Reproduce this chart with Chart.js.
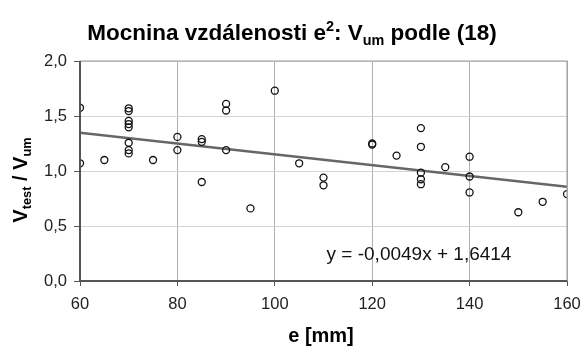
<!DOCTYPE html>
<html>
<head>
<meta charset="utf-8">
<script src="https://cdn.jsdelivr.net/npm/chart.js@4"></script>
<style>
  html, body { margin: 0; padding: 0; background: #fff; }
  #wrap { width: 585px; height: 346px; }
</style>
</head>
<body>
<div id="wrap"><canvas id="myChart"></canvas></div>
<script>
// measured points, e [mm] vs Vtest/Vum
let eValues = [60,60,65,70,70,70,70,70,70,70,70,75,80,80,85,85,85,90,90,90,95,100,105,110,110,120,120,125,130,130,130,130,130,135,140,140,140,150,155,160];
let ratioValues = [1.575,1.07,1.10,1.57,1.545,1.455,1.427,1.397,1.257,1.19,1.16,1.10,1.31,1.19,1.29,1.265,0.90,1.61,1.55,1.19,0.66,1.73,1.07,0.94,0.87,1.25,1.24,1.14,1.39,1.22,0.985,0.925,0.88,1.035,1.13,0.95,0.805,0.625,0.72,0.79];
// linear trend y = -0.0049x + 1.6414
let trendX = [60,160];
let trendY = trendX.map(x => -0.0049*x + 1.6414);
let xTicks = [60,80,100,120,140,160];
let yTicks = [0,0.5,1.0,1.5,2.0];

let points = eValues.map((e,i) => ({x: e, y: ratioValues[i]}));
let trend = trendX.map((x,i) => ({x: x, y: trendY[i]}));

// draws a string made of parts with sub/superscripts, centered at (0,0)
function drawRich(ctx, parts, size){
    let widths = parts.map(p => {
        ctx.font = 'bold ' + (p.s ? size*0.64 : size) + 'px Arial, "Liberation Sans"';
        return ctx.measureText(p.t).width;
    });
    let total = widths.reduce((a,b) => a+b, 0);
    let x = -total/2;
    ctx.textBaseline = 'alphabetic';
    ctx.textAlign = 'left';
    parts.forEach((p,i) => {
        ctx.font = 'bold ' + (p.s ? size*0.64 : size) + 'px Arial, "Liberation Sans"';
        let dy = size*0.36;
        if (p.s === 'sub') dy += size*0.2;
        if (p.s === 'sup') dy -= size*0.42;
        ctx.fillText(p.t, x, dy);
        x += widths[i];
    });
}

const textPlugin = {
    id: 'texts',
    afterDraw(chart){
        let ctx = chart.ctx;
        ctx.save();
        ctx.fillStyle = '#000';
        ctx.translate(292, 32);
        drawRich(ctx, [{t:'Mocnina vzdálenosti e'},{t:'2',s:'sup'},{t:': V'},{t:'um',s:'sub'},{t:' podle (18)'}], 22.5);
        ctx.restore();

        ctx.save();
        ctx.fillStyle = '#000';
        ctx.translate(20, 180);
        ctx.rotate(-Math.PI/2);
        drawRich(ctx, [{t:'V'},{t:'test',s:'sub'},{t:' / V'},{t:'um',s:'sub'}], 20);
        ctx.restore();

        ctx.save();
        ctx.fillStyle = '#000';
        ctx.translate(321, 335);
        drawRich(ctx, [{t:'e [mm]'}], 20);
        ctx.restore();

        ctx.save();
        ctx.fillStyle = '#111';
        ctx.font = '19px Arial, "Liberation Sans"';
        ctx.textAlign = 'center';
        ctx.textBaseline = 'middle';
        ctx.fillText('y = -0,0049x + 1,6414', 419, 255);
        ctx.restore();

        // frame
        let a = chart.chartArea;
        ctx.save();
        ctx.strokeStyle = '#999';
        ctx.lineWidth = 1;
        ctx.strokeRect(a.left, a.top, a.right - a.left, a.bottom - a.top);
        ctx.strokeStyle = '#555';
        ctx.lineWidth = 2;
        ctx.beginPath();
        ctx.moveTo(a.left, a.top);
        ctx.lineTo(a.left, a.bottom);
        ctx.lineTo(a.right, a.bottom);
        ctx.stroke();
        ctx.restore();
    }
};

const ctx = document.getElementById('myChart');

let myChart = new Chart(ctx, {
  type: 'scatter',
  data: {
    datasets: [{
      type: 'line',
      data: trend,
      borderColor: '#666',
      borderWidth: 2.5,
      pointRadius: 0,
      fill: false,
      order: 2
    },{
      data: points,
      pointStyle: 'circle',
      pointRadius: 3.5,
      pointBorderWidth: 1.3,
      pointBorderColor: '#111',
      pointBackgroundColor: 'rgba(255,255,255,0)',
      order: 1
    }]
  },
  options: {
    animation: false,
    responsive: true,
    maintainAspectRatio: false,
    layout: { padding: { top: 61, right: 18, left: 0, bottom: 0 } },
    plugins: {
      legend: { display: false },
      tooltip: { enabled: false },
      title: { display: false }
    },
    scales: {
      x: {
        type: 'linear',
        min: 60, max: 160,
        afterFit(scale){
            scale.height = 65;
            scale.paddingLeft = 0;
            scale.paddingRight = 0;
        },
        afterBuildTicks(scale){ scale.ticks = xTicks.map(v => ({value: v})); },
        grid: { color: '#b0b0b0', tickColor: '#555', tickLength: 5 },
        border: { display: false },
        ticks: { color: '#222', font: { size: 16.5, family: 'Arial' }, padding: 9 }
      },
      y: {
        min: 0, max: 2,
        afterFit(scale){
            scale.width = 80;
            scale.paddingTop = 0;
            scale.paddingBottom = 0;
        },
        afterBuildTicks(scale){ scale.ticks = yTicks.map(v => ({value: v})); },
        grid: { color: '#d4d4d4', tickColor: '#555', tickLength: 6 },
        border: { display: false },
        ticks: {
          color: '#222', font: { size: 16.5, family: 'Arial' }, padding: 7,
          callback: v => v.toFixed(1).replace('.', ',')
        }
      }
    }
  },
  plugins: [textPlugin]
});
</script>
</body>
</html>
